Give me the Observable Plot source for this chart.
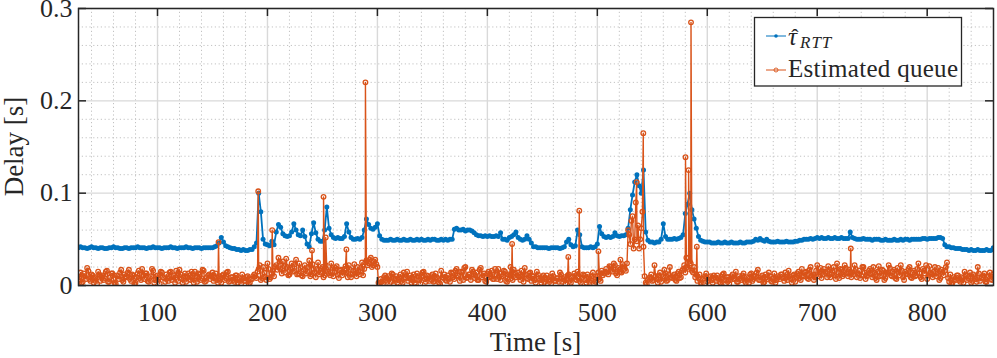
<!DOCTYPE html>
<html><head><meta charset="utf-8">
<script src="https://cdn.jsdelivr.net/npm/d3@7"></script>
<script src="https://cdn.jsdelivr.net/npm/@observablehq/plot@0.6"></script>
<style>
body{margin:0;background:#fff;}
#chart{width:997px;height:358px;}
</style></head><body><div id="chart"></div>
<script>
// sampling grid of the two traces (seconds)
const tStart = 28, tStep = 2;
// τ̂_RTT in milliseconds, one value every 2 s from t = 28 s
const rttMs = [
41,42,41,41,40,41,42,41,41,40,
41,41,40,40,41,41,42,41,41,40,
40,41,41,40,41,41,41,42,41,41,
41,40,41,41,42,41,41,41,40,41,
41,41,42,41,41,40,41,41,41,42,
41,41,40,41,41,41,40,41,41,41,
41,41,42,43,46,52,47,43,42,41,
40,40,39,39,38,39,38,38,39,39,
42,46,100,80,50,45,44,43,48,44,
58,66,63,56,54,53,54,58,67,60,
55,54,60,53,45,42,56,68,57,50,
48,48,60,85,62,55,52,51,52,51,
51,53,67,58,52,50,50,51,50,52,
60,72,66,62,61,63,67,54,50,49,
49,49,50,49,49,50,49,49,50,49,
49,50,49,49,50,49,50,49,49,50,
49,50,50,49,49,50,49,50,49,50,
50,61,62,60,60,61,59,60,60,59,
57,55,54,54,53,54,53,54,53,53,
54,53,57,50,50,49,52,53,55,58,
52,50,49,50,54,50,46,42,42,41,
41,41,41,41,40,41,41,41,41,40,
41,42,47,50,44,42,43,60,55,42,
41,41,41,42,41,42,45,64,56,53,
52,53,52,53,57,54,53,54,54,55,
62,82,98,112,120,108,100,125,58,49,
47,47,46,47,47,50,67,53,50,50,
50,51,50,51,52,55,78,88,100,82,
72,62,53,49,48,47,47,47,46,46,
46,47,46,46,47,46,46,47,46,46,
46,47,46,46,47,47,47,48,50,49,
51,49,48,50,48,47,47,47,48,47,
47,47,48,47,47,47,48,48,49,49,
50,50,50,51,50,51,52,51,52,51,
51,52,51,51,52,51,51,52,51,51,
51,58,52,51,50,50,50,51,50,50,
50,49,50,50,50,49,49,50,49,49,
49,50,49,49,50,49,50,50,49,50,
50,50,50,50,51,51,50,51,51,51,
51,52,52,51,44,42,42,41,41,40,
40,40,39,39,39,38,39,38,38,39,
38,38,38,39,38,38,41,42
];
// Estimated queue in milliseconds, samples at even seconds (28, 30, ...)
const queueMsEven = [
6,14,4,10,19,7,12,3,9,15,
5,11,8,16,4,13,7,2,10,14,
6,12,9,17,5,11,3,13,8,18,
7,13,4,10,16,6,11,2,14,8,
12,5,15,9,3,11,17,7,10,4,
13,6,9,15,4,12,8,16,5,11,
7,14,9,6,10,3,12,8,15,5,
9,4,11,6,2,8,5,10,3,7,
12,8,18,6,20,9,24,7,13,10,
22,30,18,26,14,20,12,24,16,28,
13,19,10,22,15,27,12,18,9,25,
14,20,11,17,13,24,10,19,12,16,
11,18,14,22,9,16,13,20,12,25,
18,27,24,30,22,28,20,1,4,9,
6,10,4,12,7,3,9,5,14,8,
5,11,7,3,13,6,9,15,4,10,
7,12,5,9,3,16,8,6,11,4,
13,7,18,10,15,6,20,9,12,17,
8,14,6,19,11,5,13,9,16,7,
12,18,6,10,15,4,11,8,17,9,
14,6,11,19,8,13,5,10,3,12,
6,9,4,11,7,2,10,5,8,14,
4,9,6,12,3,10,7,15,5,8,
11,3,9,6,14,4,10,7,16,13,
18,12,20,15,22,11,17,14,21,16,
60,45,75,50,48,40,62,42,3,6,
9,5,22,7,11,4,10,13,6,20,
8,12,5,15,9,18,14,20,26,16,
20,12,8,3,7,10,4,9,6,11,
5,8,3,12,6,9,2,10,7,15,
4,8,11,5,9,3,13,7,10,17,
6,11,4,9,14,5,8,3,10,7,
12,5,9,16,7,11,4,13,8,18,
10,15,7,20,12,9,22,14,8,18,
13,21,9,16,11,24,8,17,12,19,
10,15,14,22,9,16,11,20,7,13,
18,9,14,6,21,11,16,8,13,19,
10,17,7,14,22,9,15,12,20,8,
16,11,24,9,18,13,7,21,12,15,
10,19,8,14,16,25,4,2,9,6,
11,4,8,15,6,10,3,12,7,20,
5,9,13,4,10,7,12,15
];
// Estimated queue in milliseconds, samples at odd seconds (29, 31, ...)
const queueMsOdd = [
9,3,13,7,16,5,11,8,2,12,
10,6,15,4,9,13,3,11,7,17,
4,10,14,7,12,2,9,16,6,11,
13,5,8,18,3,10,7,15,9,4,
8,14,6,11,16,5,12,3,13,9,
7,15,3,10,13,6,17,4,9,12,
10,5,13,3,8,11,6,14,4,9,
6,11,3,8,12,5,9,2,7,10,
10,15,22,8,14,6,18,9,16,20,
17,26,13,21,29,11,19,15,23,12,
24,11,17,13,20,10,23,14,18,12,
18,9,22,15,11,19,14,21,8,17,
14,21,9,17,12,23,10,15,19,11,
25,22,28,20,26,23,3,7,2,11,
4,8,13,2,10,6,12,3,9,15,
8,3,12,6,10,2,14,7,11,5,
10,4,13,7,2,9,12,5,8,14,
9,16,11,5,14,19,8,12,6,15,
11,6,17,9,13,4,15,10,7,18,
7,13,10,16,5,12,20,6,14,11,
9,16,4,12,7,14,10,6,15,8,
3,11,7,2,9,13,5,8,4,12,
7,2,11,5,9,13,6,10,3,12,
6,12,4,10,2,8,14,5,11,15,
14,21,17,24,13,19,15,23,18,24,
55,70,40,90,65,50,80,10,2,8,
12,6,10,3,14,8,17,5,12,9,
10,6,13,8,16,22,30,18,24,14,
9,5,12,2,8,13,6,10,3,9,
11,4,7,13,2,9,6,12,8,4,
10,6,13,3,8,12,5,9,14,6,
9,3,12,7,10,4,13,6,9,12,
8,14,6,10,3,12,9,15,6,11,
14,8,17,11,6,16,10,19,12,15,
9,17,12,20,7,14,18,10,22,13,
17,9,12,18,13,8,20,14,10,16,
12,20,8,15,10,17,6,14,22,11,
15,8,19,11,16,6,13,18,9,14,
10,18,13,7,16,22,11,14,9,20,
13,6,17,11,20,8,12,3,7,11,
6,9,3,12,8,14,5,10,4,13,
8,11,4,9,14,6,10
];
// isolated queue spikes (time in s, value in ms)
const queueSpikeT  = [155.5,191.6,204.3,240.5,251,253,271.8,289.1,422.5,473.6,483.6,501,521,535.8,541.8,580.2,583,585.2,590.5,730.5];
const queueSpikeMs = [47,102,60,38,96,52,39,220,45,31,81,37,28,112,165,139,125,285,42,40];

const xTicks = [100,200,300,400,500,600,700,800];
const yTicks = [0,0.1,0.2,0.3];
const xMinor = [40,60,80,120,140,160,180,220,240,260,280,320,340,360,380,420,440,460,480,520,540,560,580,620,640,660,680,720,740,760,780,820,840];
const yMinor = [0.02,0.04,0.06,0.08,0.12,0.14,0.16,0.18,0.22,0.24,0.26,0.28];
const seriesLabels = ["τ", "RTT", "Estimated queue"];
const xLabel = "Time [s]";
const yLabel = "Delay [s]";

const blue = "#0072BD", orange = "#D95319";

const rtt = rttMs.map((v, i) => ({t: tStart + i * tStep, d: v / 1000}));
const queue = queueMsEven.map((v, i) => ({t: tStart + i * tStep, d: v / 1000}))
  .concat(queueMsOdd.map((v, i) => ({t: tStart + 1 + i * tStep, d: v / 1000})))
  .concat(queueSpikeT.map((t, i) => ({t, d: queueSpikeMs[i] / 1000})))
  .sort((a, b) => a.t - b.t);

const W = 997, H = 358, mL = 78, mR = 4, mT = 8, mB = 73;
const fw = W - mL - mR, fh = H - mT - mB, tk = 8;
const ink = "#262626";

const chart = Plot.plot({
  width: W, height: H,
  marginLeft: mL, marginRight: mR, marginTop: mT, marginBottom: mB,
  style: {fontFamily: "'Liberation Serif', serif", fontSize: "26px", color: ink, background: "white", overflow: "visible"},
  x: {domain: [28.15, 860.3], ticks: xTicks, tickSize: 0, tickPadding: 17, label: null},
  y: {domain: [0, 0.3], ticks: yTicks, tickSize: 0, tickPadding: 6, label: null, tickFormat: d => String(d)},
  marks: [
    Plot.ruleX(xMinor, {stroke: "#c2c2c2", strokeWidth: 1, strokeDasharray: "1.2,2.6"}),
    Plot.ruleY(yMinor, {stroke: "#c2c2c2", strokeWidth: 1, strokeDasharray: "1.2,2.6"}),
    Plot.ruleX(xTicks, {stroke: "#d9d9d9", strokeWidth: 1.4}),
    Plot.ruleY(yTicks, {stroke: "#d9d9d9", strokeWidth: 1.4}),
    Plot.line(rtt, {x: "t", y: "d", stroke: blue, strokeWidth: 1.8, clip: true}),
    Plot.dot(rtt, {x: "t", y: "d", r: 2.5, fill: blue, stroke: null, clip: true}),
    Plot.line(queue, {x: "t", y: "d", stroke: orange, strokeWidth: 1.4, clip: true}),
    Plot.dot(queue, {x: "t", y: "d", r: 2.3, stroke: orange, fill: "none", strokeWidth: 1.3, clip: true}),
    Plot.frame({stroke: ink, strokeWidth: 1.5}),
    Plot.ruleX(xTicks, {stroke: ink, strokeWidth: 1.5, insetTop: fh - tk}),
    Plot.ruleX(xTicks, {stroke: ink, strokeWidth: 1.5, insetBottom: fh - tk}),
    Plot.ruleY(yTicks, {stroke: ink, strokeWidth: 1.5, insetRight: fw - tk}),
    Plot.ruleY(yTicks, {stroke: ink, strokeWidth: 1.5, insetLeft: fw - tk})
  ]
});
document.getElementById("chart").appendChild(chart);

const svg = d3.select(chart);
svg.append("text").attr("x", mL + fw / 2).attr("y", 351)
  .attr("text-anchor", "middle").attr("fill", ink)
  .style("font-family", "'Liberation Serif', serif").style("font-size", "27px").text(xLabel);
svg.append("text").attr("transform", `translate(23,${mT + fh / 2}) rotate(-90)`)
  .attr("text-anchor", "middle").attr("fill", ink)
  .style("font-family", "'Liberation Serif', serif").style("font-size", "27px").text(yLabel);

// legend
const lg = svg.append("g").style("font-family", "'Liberation Serif', serif").attr("text-anchor", "start");
lg.append("rect").attr("x", 754.5).attr("y", 17.5).attr("width", 207).attr("height", 68.5)
  .attr("fill", "white").attr("stroke", ink).attr("stroke-width", 1.3);
lg.append("line").attr("x1", 766).attr("x2", 786).attr("y1", 36).attr("y2", 36).attr("stroke", blue).attr("stroke-width", 1);
lg.append("circle").attr("cx", 776).attr("cy", 36).attr("r", 1.8).attr("fill", blue);
lg.append("text").attr("x", 788).attr("y", 45).attr("fill", ink).attr("text-anchor", "start")
  .style("font-size", "25px").style("font-style", "italic").text(seriesLabels[0]);
lg.append("text").attr("x", 795).attr("y", 44).attr("fill", ink).attr("text-anchor", "middle")
  .style("font-size", "22px").text("ˆ");
lg.append("text").attr("x", 800).attr("y", 48).attr("fill", ink).attr("text-anchor", "start")
  .style("font-size", "17px").style("font-style", "italic").style("letter-spacing", "1px").text(seriesLabels[1]);
lg.append("line").attr("x1", 766).attr("x2", 786).attr("y1", 70).attr("y2", 70).attr("stroke", orange).attr("stroke-width", 1);
lg.append("circle").attr("cx", 776).attr("cy", 70).attr("r", 2).attr("fill", "none").attr("stroke", orange).attr("stroke-width", 0.9);
lg.append("text").attr("x", 788).attr("y", 77).attr("fill", ink).attr("text-anchor", "start").style("font-size", "25px")
  .attr("textLength", 170).attr("lengthAdjust", "spacing").text(seriesLabels[2]);
</script>
</body></html>
